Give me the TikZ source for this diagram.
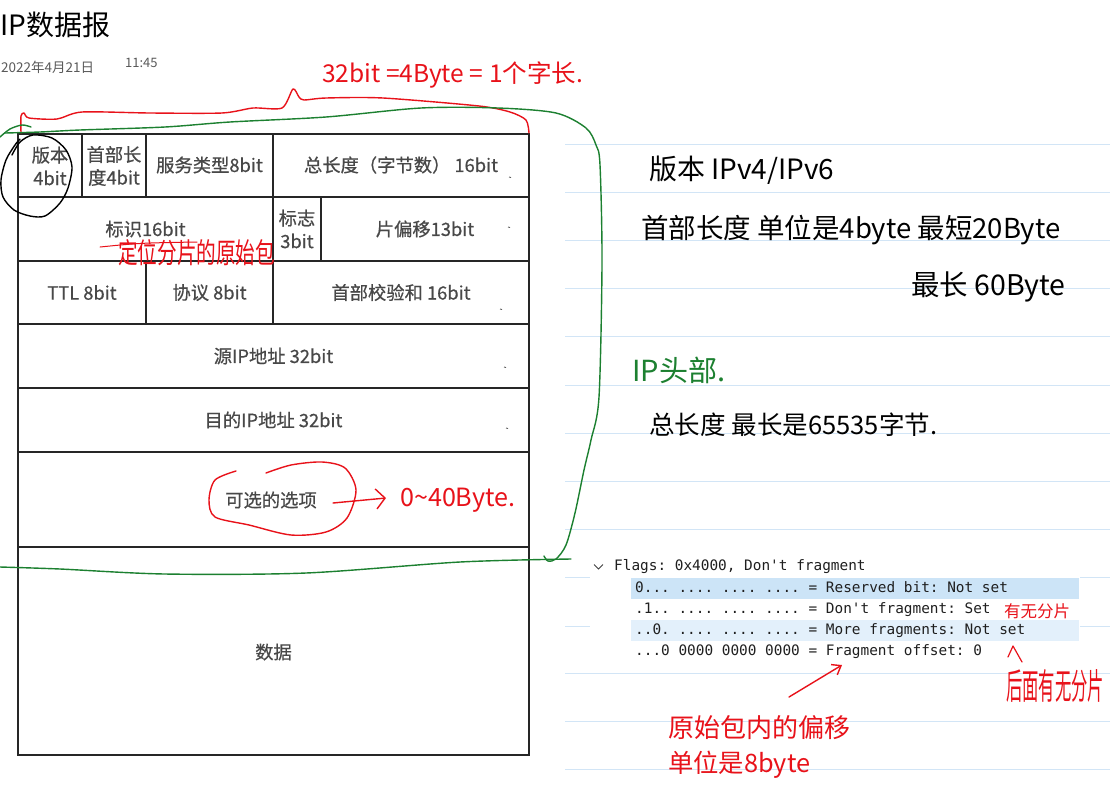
\documentclass[tikz,border=0pt]{standalone}
\usepackage{fontspec}
\usepackage{graphicx}
\setmainfont{Noto Sans CJK SC}
\setmonofont{DejaVu Sans Mono}
\newfontfamily\cellfont[FakeBold=0.6]{Noto Sans CJK SC}
\usetikzlibrary{arrows.meta}
\definecolor{hred}{RGB}{232,18,26}
\definecolor{hgreen}{RGB}{28,128,48}
\definecolor{rulec}{RGB}{210,229,246}
\definecolor{cellfg}{RGB}{72,72,72}
\definecolor{hlone}{RGB}{204,228,247}
\definecolor{hltwo}{RGB}{227,240,251}
\newcommand\fitw[2]{\resizebox{#1pt}{!}{#2}}
\newcommand\fitwh[3]{\resizebox{#1pt}{#2pt}{#3}}
\begin{document}
\begin{tikzpicture}[x=1pt,y=-1pt,
  cell/.style={text=cellfg, font=\cellfont\fontsize{18.3}{23}\selectfont, inner sep=0pt, align=center},
  hand/.style={inner sep=0pt, anchor=west},
  gridline/.style={draw=black!85, line width=1.1pt},
  ws/.style={font=\ttfamily\fontsize{14.4}{16}\selectfont, text=black!88, anchor=west, inner sep=0pt, text height=10.5pt, text depth=3pt},
  pen/.style={line width=1.4pt, line cap=round, line join=round},
]
\fill[white] (0,0) rectangle (1110,793);
\useasboundingbox (0,0) rectangle (1110,793);

% ruled note lines
\foreach \yy in {144,192.2,240.4,288.6,336.8,385,433.2,481.4,529.6,673.4,721.6,769.8}
  \draw[rulec, line width=1pt] (565,\yy) -- (1110,\yy);
\foreach \yy in {577.8,626}{
  \draw[rulec, line width=1pt] (565,\yy) -- (590,\yy);
  \draw[rulec, line width=1pt] (1080,\yy) -- (1110,\yy);}

% header
\node[anchor=west, inner sep=0pt, font=\fontsize{28}{30}\selectfont] (title) at (0,25) {IP数据报};
\node[anchor=west, inner sep=0pt, text=black!65, font=\fontsize{13.5}{14}\selectfont] (date) at (1,67) {2022年4月21日};
\node[anchor=west, inner sep=0pt, text=black!65, font=\fontsize{13}{14}\selectfont] (time) at (125,63) {11:45};

% table
\draw[gridline] (18,134) rectangle (529,755);
\foreach \yy in {197,261,324,388,452,547} \draw[gridline] (18,\yy) -- (529,\yy);
\foreach \xx in {82,146,273} \draw[gridline] (\xx,134) -- (\xx,197);
\foreach \xx in {273,321} \draw[gridline] (\xx,197) -- (\xx,261);
\foreach \xx in {146,273} \draw[gridline] (\xx,261) -- (\xx,324);
\foreach \a/\b in {509/177,508/227,500/309,504/367,506/428}
  \draw[black!70, line width=0.8pt] (\a,\b) -- ++(2,0.5);

\node[cell] (ver) at (50,166) {版本\\4bit};
\node[cell] (ihl) at (114,166) {首部长\\度4bit};
\node[cell] (tos) at (209.5,165) {服务类型8bit};
\node[cell] (len) at (401,165) {总长度（字节数） 16bit};
\node[cell] (ident) at (145.5,229) {标识16bit};
\node[cell] (flags) at (297,229) {标志\\3bit};
\node[cell] (frag) at (425,229) {片偏移13bit};
\node[cell] (ttl) at (82,292.5) {TTL 8bit};
\node[cell] (proto) at (209.5,292.5) {协议 8bit};
\node[cell] (csum) at (401,292.5) {首部校验和 16bit};
\node[cell] (src) at (273.5,356) {源IP地址 32bit};
\node[cell] (dst) at (273.5,420) {目的IP地址 32bit};
\node[cell] (opt) at (271,500) {可选的选项};
\node[cell] (data) at (273.5,652) {数据};

% wireshark block
\fill[hlone] (631,578) rectangle (1079,599);
\fill[hltwo] (631,620) rectangle (1079,641);
\draw[black!75, line width=1pt] (594,564.5) -- (598.5,569) -- (603,564.5);
\node[ws] (wsf) at (614,567) {Flags: 0x4000, Don't fragment};
\node[ws] (wsa) at (635,589) {0... .... .... .... = Reserved bit: Not set};
\node[ws] (wsb) at (635,610) {.1.. .... .... .... = Don't fragment: Set};
\node[ws] (wsc) at (635,631) {..0. .... .... .... = More fragments: Not set};
\node[ws] (wsd) at (635,652) {...0 0000 0000 0000 = Fragment offset: 0};

% red bracket on top
\draw[hred, pen] plot[smooth, tension=0.45] coordinates {(21,133) (21,116) (24,113) (29,118) (57,119) (82,112) (150,113) (222,113) (253,108) (282,108) (293,89) (299,97) (304,100) (326,98) (383,98) (479,106) (510,112) (526,120) (529,133)};
\node[hand, text=hred] (h32) at (322,75) {\fitw{261}{32bit =4Byte = 1个字长.}};

% green loop (IP header)
\draw[hgreen, pen] plot[smooth] coordinates {(0,137) (10,129) (22,125) (31,127)};
\draw[hgreen, pen] plot[smooth] coordinates {(5,133) (40,132) (80,130) (165,127) (230,122) (326,117) (421,108) (498,108) (556,113) (586,128) (596,145) (600,165) (602,263) (599,397) (591,440) (584,470) (575,513) (566,545) (556,559) (548,561) (544,556)};
\draw[hgreen, pen] plot[smooth] coordinates {(571,559) (460,562) (306,573) (165,574) (60,569) (0,567)};

% black circle round version
\draw[black, pen] plot[smooth] coordinates {(12,155) (20,142) (33,135) (52,138) (66,150) (72,167) (68,188) (60,203) (45,216) (30,216) (14,210) (3,197) (1,180) (6,160) (15,145) (20,139)};

% ident annotation
\draw[hred, line width=1pt, line cap=round] (100,247) .. controls (140,243) .. (197,242);
\node[hand, text=hred] (hloc) at (118,253) {\fitwh{157}{24}{定位分片的原始包}};

% options annotation
\draw[hred, pen] plot[smooth] coordinates {(236,471) (215,480) (209,500) (215,517) (249,525) (291,535) (326,532) (347,518) (356,490) (345,468) (322,462) (291,465) (266,473)};
\coordinate (oa) at (333,503);
\coordinate (ob) at (386,498);
\draw[hred, pen, -{Straight Barb[length=9pt,width=20pt]}] (oa) -- (ob);
\node[hand, text=hred] (h040) at (400,500) {\fitw{115}{0\textasciitilde 40Byte.}};

% right notes
\node[hand] (hver) at (649,170) {\fitw{185}{版本 IPv4/IPv6}};
\node[hand] (hhl) at (641,230) {\fitw{419}{首部长度 单位是4byte 最短20Byte}};
\node[hand] (hmax) at (911,287) {\fitw{154}{最长 60Byte}};
\node[hand, text=hgreen] (hip) at (632,370) {\fitw{93}{IP头部.}};
\node[hand] (htot) at (649,425) {\fitw{288}{总长度 最长是65535字节.}};

% wireshark annotations
\node[hand, text=hred] (hyw) at (1004,611) {\fitw{66}{有无分片}};
\draw[hred, pen, line width=1.2pt] (1008,657) -- (1013,646) -- (1022,662);
\node[hand, text=hred] (hhm) at (1006,686) {\fitwh{98}{30}{后面有无分片}};
\coordinate (fa) at (789,697);
\coordinate (fb) at (842,665);
\draw[hred, pen, -{Straight Barb[length=8pt,width=12pt]}] (fa) -- (fb);
\node[hand, text=hred] (hys) at (668,728) {\fitw{182}{原始包内的偏移}};
\node[hand, text=hred] (hdw) at (668,765) {\fitw{142}{单位是8byte}};
\end{tikzpicture}
\end{document}
